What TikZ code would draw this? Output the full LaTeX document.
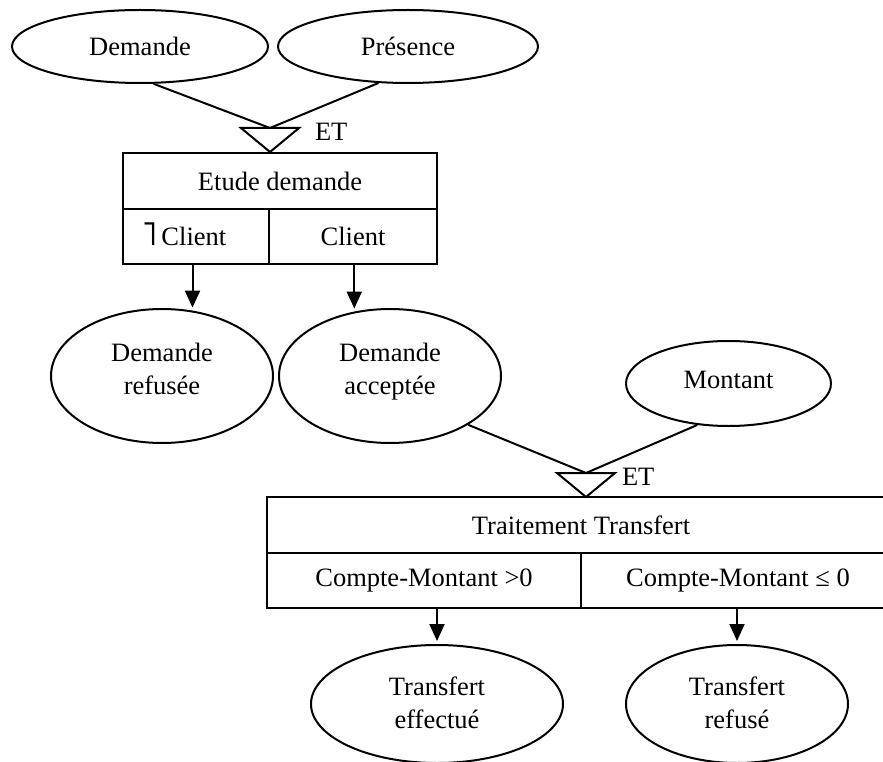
\documentclass[tikz,border=0pt]{standalone}
\usepackage{fontspec}
\setmainfont{Liberation Serif}
\newfontfamily\symfont{DejaVu Sans}
\usetikzlibrary{shapes.geometric,arrows.meta}
\begin{document}
\begin{tikzpicture}[x=1pt,y=-1pt,line width=2pt,
  every node/.style={font=\fontsize{26.5}{33}\selectfont},
  oval/.style={draw,ellipse,inner sep=0pt},
  cell/.style={draw,rectangle,inner sep=0pt},
  txt/.style={align=center,inner sep=0pt},
  arr/.style={-{Triangle[length=17pt,width=15pt]},shorten >=3pt}]
\useasboundingbox (0,0) rectangle (883,762);

% events
\node[oval,minimum width=256pt,minimum height=73pt] (demande) at (140,46.5) {Demande};
\node[oval,minimum width=260pt,minimum height=73pt] (presence) at (408,46.5) {Présence};

% synchronisation ET (1)
\coordinate (t1) at (270,128);
\draw ([xshift=-29pt]t1) -- ([xshift=29pt]t1) -- ([yshift=-24pt]t1) -- cycle;
\node[txt,anchor=west] (et1) at (314,132) {ET};
\draw (demande.-70) -- (t1);
\draw (presence.-129) -- (t1);

% operation Etude demande
\node[cell,minimum width=314pt,minimum height=56pt] (etude) at (280,181) {Etude demande};
\node[cell,minimum width=146pt,minimum height=55pt] (nonclient) at (196,236.5) {};
\node[cell,minimum width=168pt,minimum height=55pt] (client) at (353,236.5) {Client};
\node[txt,anchor=base] (nonclienttxt) at ([xshift=-12pt]nonclient.center |- client.base)
  {{\symfont\fontsize{34}{34}\selectfont ˥}\kern3pt Client};

% results
\node[oval,minimum width=222pt,minimum height=134pt] (refusee) at (162,376) {};
\node[txt] (refuseetxt) at ([yshift=7pt]refusee.center) {Demande\\refusée};
\node[oval,minimum width=222pt,minimum height=134pt] (acceptee) at (390,376) {};
\node[txt] (accepteetxt) at ([yshift=4pt]acceptee.center) {Demande\\acceptée};
\draw[arr] (refusee.65 |- nonclient.south) -- (refusee.65);
\draw[arr] (acceptee.119 |- client.south) -- (acceptee.119);

\node[oval,minimum width=205pt,minimum height=85pt] (montant) at (728.5,383.5) {};
\node[txt] (montanttxt) at ([yshift=4pt]montant.center) {Montant};

% synchronisation ET (2)
\coordinate (t2) at (586,473);
\draw ([xshift=-29pt]t2) -- ([xshift=29pt]t2) -- ([yshift=-24pt]t2) -- cycle;
\node[txt,anchor=west] (et2) at (621,477) {ET};
\draw (acceptee.-32) -- (t2);
\draw (montant.-127) -- (t2);

% operation Traitement Transfert
\node[cell,minimum width=628pt,minimum height=56pt] (traitement) at (581,525) {Traitement Transfert};
\node[cell,minimum width=314pt,minimum height=55pt] (positif) at (424,580.5) {Compte-Montant >0};
\node[cell,minimum width=314pt,minimum height=55pt] (negatif) at (738,580.5) {Compte-Montant ≤ 0};

% results
\node[oval,minimum width=252pt,minimum height=118pt] (effectue) at (437,704) {};
\node[txt] (effectuetxt) at ([yshift=1pt]effectue.center) {Transfert\\effectué};
\node[oval,minimum width=222pt,minimum height=118pt] (trefuse) at (737,704) {};
\node[txt] (trefusetxt) at ([yshift=1pt]trefuse.center) {Transfert\\refusé};
\draw[arr] (effectue.north |- positif.south) -- (effectue.north);
\draw[arr] (trefuse.north |- negatif.south) -- (trefuse.north);
\end{tikzpicture}
\end{document}
